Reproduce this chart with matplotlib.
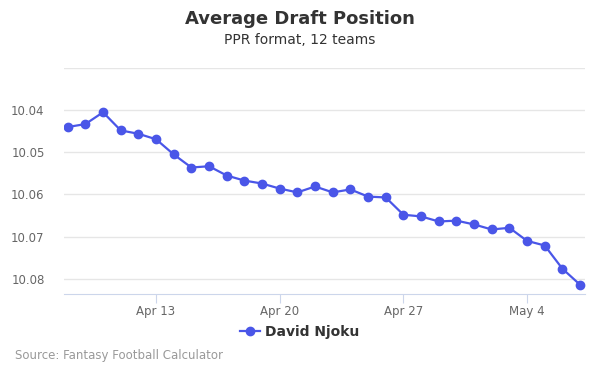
"""
Average Draft Position chart for David Njoku (PPR, 12 teams).
"""

import datetime as dt

import matplotlib.dates as mdates
import matplotlib.pyplot as plt
from matplotlib.lines import Line2D

# data
start_date = dt.date(2024, 4, 8)
adp = [
    10.0440, 10.0433, 10.0405, 10.0448, 10.0456, 10.0469, 10.0505, 10.0536,
    10.0533, 10.0555, 10.0567, 10.0574, 10.0586, 10.0595, 10.0581, 10.0595,
    10.0588, 10.0605, 10.0607, 10.0648, 10.0652, 10.0664, 10.0662, 10.0671,
    10.0683, 10.0679, 10.0710, 10.0721, 10.0776, 10.0814,
]
dates = [start_date + dt.timedelta(days=i) for i in range(len(adp))]
y_ticks = [10.03, 10.04, 10.05, 10.06, 10.07, 10.08]
x_ticks = [dt.date(2024, 4, 13), dt.date(2024, 4, 20),
           dt.date(2024, 4, 27), dt.date(2024, 5, 4)]
player = "David Njoku"

line_color = "#4a56e8"
grid_color = "#e6e6e6"
axis_color = "#ccd6eb"
text_color = "#666666"

fig = plt.figure(figsize=(6, 3.75), dpi=100)
ax = fig.add_axes([64 / 600, 1 - 294 / 375, 521 / 600, 226 / 375])

ax.plot(dates, adp, "-o", color=line_color, lw=1.6, ms=6, zorder=3)

ax.set_ylim(10.0836, 10.03)  # inverted: lower pick on top
ax.set_yticks(y_ticks)
ax.set_yticklabels([""] + [f"{v:.2f}" for v in y_ticks[1:]])
ax.grid(axis="y", color=grid_color, lw=1)
ax.set_axisbelow(True)

x0 = mdates.date2num(dt.date(2024, 4, 13))
ax.set_xlim(x0 - 5.21, x0 + 21 + 3.28)
ax.set_xticks(x_ticks)
ax.xaxis.set_major_formatter(mdates.DateFormatter("%b %-d"))

for side in ["top", "right", "left"]:
    ax.spines[side].set_visible(False)
ax.spines["bottom"].set_color(axis_color)
ax.tick_params(axis="y", length=0, labelsize=8.5, labelcolor=text_color, pad=14)
ax.tick_params(axis="x", length=6.5, color=axis_color, labelsize=8.5,
               labelcolor=text_color, pad=1.5)

fig.text(0.5, 1 - 19 / 375, "Average Draft Position", ha="center", va="center",
         fontsize=13, fontweight="bold", color="#333333")
fig.text(0.5, 1 - 40 / 375, "PPR format, 12 teams", ha="center", va="center",
         fontsize=10, color="#333333")

handle = Line2D([], [], color=line_color, marker="o", lw=1.6, ms=6)
fig.legend([handle], [player], loc="center", bbox_to_anchor=(0.5, 1 - 332 / 375),
           frameon=False, handlelength=1.4, handletextpad=0.4,
           prop={"weight": "bold", "size": 10}, labelcolor="#333333")

fig.text(15 / 600, 1 - 356 / 375, "Source: Fantasy Football Calculator",
         ha="left", va="center", fontsize=8.5, color="#999999")

fig.savefig("out.png", dpi=100)
